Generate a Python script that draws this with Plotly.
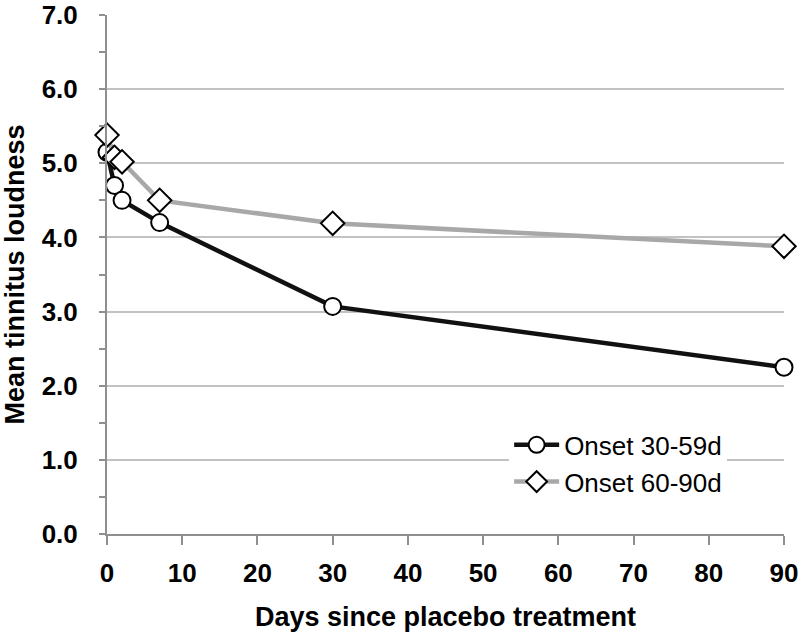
import plotly.graph_objects as go

days = [0, 1, 2, 7, 30, 90]
onset_30_59 = [5.15, 4.7, 4.5, 4.2, 3.07, 2.25]
onset_60_90 = [5.38, 5.08, 5.02, 4.5, 4.19, 3.88]
series_names = ["Onset 30-59d", "Onset 60-90d"]
y_ticks = [0, 1, 2, 3, 4, 5, 6, 7]
x_ticks = [0, 10, 20, 30, 40, 50, 60, 70, 80, 90]

FONT = "Liberation Sans, Arial, sans-serif"

fig = go.Figure()
fig.add_trace(go.Scatter(
    x=days, y=onset_30_59, name=series_names[0], mode="lines+markers",
    line=dict(color="#111111", width=4.5),
    marker=dict(symbol="circle", size=17, color="white", line=dict(color="black", width=2)),
    cliponaxis=False,
))
fig.add_trace(go.Scatter(
    x=days, y=onset_60_90, name=series_names[1], mode="lines+markers",
    line=dict(color="#a8a8a8", width=4.5),
    marker=dict(symbol="diamond", size=18, color="white", line=dict(color="black", width=2)),
    cliponaxis=False,
))

fig.update_layout(
    width=800, height=637,
    margin=dict(l=107, r=16, t=15, b=103, autoexpand=False),
    paper_bgcolor="white", plot_bgcolor="white",
    font=dict(family=FONT, color="black"),
    legend=dict(
        x=0.594, y=0.217, xanchor="left", yanchor="top",
        bgcolor="white", font=dict(size=26, color="black", family=FONT),
        itemwidth=45, tracegroupgap=0,
    ),
    showlegend=True,
)
fig.update_xaxes(
    range=[0, 90], tickvals=x_ticks, automargin=False,
    showgrid=False, zeroline=False,
    showline=True, linecolor="#8f8f8f", linewidth=2,
    ticks="outside", ticklen=9, tickwidth=2, tickcolor="#8f8f8f",
    ticklabelstandoff=6, ticklabeloverflow="allow",
    tickfont=dict(size=26, family=FONT, weight="bold"),
    title=dict(text="<b>Days since placebo treatment</b>", font=dict(size=27, family=FONT), standoff=20),
)
fig.update_yaxes(
    range=[0, 7], tickvals=y_ticks, tickformat=".1f", automargin=False,
    showgrid=True, gridcolor="#c2c2c2", gridwidth=2, zeroline=False,
    showline=True, linecolor="#8f8f8f", linewidth=2,
    ticks="outside", ticklen=6, tickwidth=2, tickcolor="#8f8f8f",
    ticklabelstandoff=16, ticklabeloverflow="allow",
    minor=dict(dtick=0.5, ticks="outside", ticklen=6, tickwidth=2, tickcolor="#8f8f8f", showgrid=False),
    tickfont=dict(size=26, family=FONT, weight="bold"),
    title=dict(text="<b>Mean tinnitus loudness</b>", font=dict(size=27, family=FONT), standoff=14),
)

fig.write_html(
    "out.html",
    config={"displayModeBar": False},
    post_script="document.body.style.margin='0';document.body.style.padding='0';",
)
